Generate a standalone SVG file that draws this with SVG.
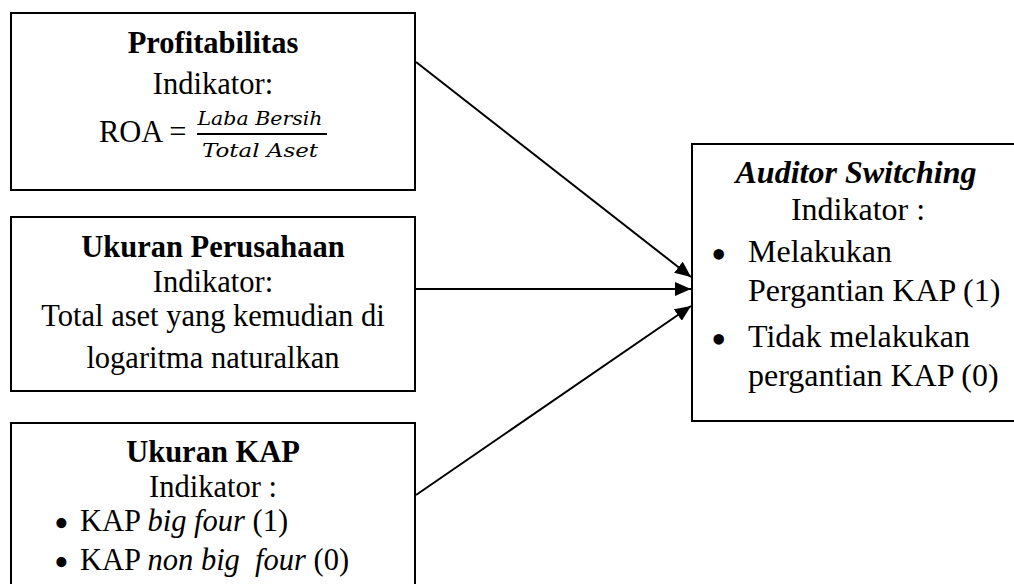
<svg xmlns="http://www.w3.org/2000/svg" width="1014" height="584" viewBox="0 0 1014 584">
<defs>
<marker id="ah" markerUnits="userSpaceOnUse" markerWidth="18" markerHeight="14" refX="16" refY="7" orient="auto">
<path d="M0,0 L16,7 L0,14 Z" fill="#000"/>
</marker>
<style>
.box{fill:#fff;stroke:#000;stroke-width:2}
.e{stroke:#000;stroke-width:2;fill:none}
</style>
</defs>
<rect width="1014" height="584" fill="#fff"/>
<g id="profitabilitas" font-size="30.5" fill="#000">
<rect class="box" x="11" y="13" width="404" height="177"/>
<text font-family="Liberation Serif" text-anchor="middle" font-weight="bold" x="213" y="53">Profitabilitas</text>
<text font-family="Liberation Serif" text-anchor="middle" x="213" y="94">Indikator:</text>
<text font-family="Liberation Serif" x="99" y="142">ROA =</text>
<text font-family="DejaVu Serif" font-size="19" font-style="italic" text-anchor="middle" x="260" y="125" textLength="125" lengthAdjust="spacingAndGlyphs">Laba Bersih</text>
<line x1="197" y1="134" x2="327" y2="134" stroke="#000" stroke-width="2"/>
<text font-family="DejaVu Serif" font-size="19" font-style="italic" text-anchor="middle" x="260" y="157" textLength="116" lengthAdjust="spacingAndGlyphs">Total Aset</text>
</g>
<g id="ukuran-perusahaan" font-size="30.5" fill="#000">
<rect class="box" x="11" y="217" width="404" height="174"/>
<text font-family="Liberation Serif" text-anchor="middle" font-weight="bold" x="213" y="257">Ukuran Perusahaan</text>
<text font-family="Liberation Serif" text-anchor="middle" x="213" y="292">Indikator:</text>
<text font-family="Liberation Serif" text-anchor="middle" x="213" y="326">Total aset yang kemudian di</text>
<text font-family="Liberation Serif" text-anchor="middle" x="213" y="368">logaritma naturalkan</text>
</g>
<g id="ukuran-kap" font-size="30.5" fill="#000">
<rect class="box" x="11" y="423" width="404" height="180"/>
<text font-family="Liberation Serif" text-anchor="middle" font-weight="bold" x="213" y="462">Ukuran KAP</text>
<text font-family="Liberation Serif" text-anchor="middle" x="213" y="497">Indikator :</text>
<text font-family="Liberation Serif" font-size="42" x="54" y="537">•</text>
<text font-family="Liberation Serif" x="80" y="531">KAP <tspan font-style="italic">big four</tspan> (1)</text>
<text font-family="Liberation Serif" font-size="42" x="54" y="576">•</text>
<text font-family="Liberation Serif" x="80" y="570">KAP <tspan font-style="italic">non big&#160; four</tspan> (0)</text>
</g>
<g id="auditor-switching" font-size="32" fill="#000">
<rect class="box" x="692" y="144" width="340" height="277"/>
<text font-family="Liberation Serif" text-anchor="middle" font-weight="bold" font-style="italic" x="856" y="183">Auditor Switching</text>
<text font-family="Liberation Serif" text-anchor="middle" x="858" y="220">Indikator :</text>
<text font-family="Liberation Serif" font-size="44" x="711" y="269">•</text>
<text font-family="Liberation Serif" x="748" y="262">Melakukan</text>
<text font-family="Liberation Serif" x="748" y="301">Pergantian KAP (1)</text>
<text font-family="Liberation Serif" font-size="44" x="711" y="354">•</text>
<text font-family="Liberation Serif" x="748" y="347">Tidak melakukan</text>
<text font-family="Liberation Serif" x="748" y="386">pergantian KAP (0)</text>
</g>
<g id="connectors">
<line class="e" x1="416" y1="62" x2="691" y2="277" marker-end="url(#ah)"/>
<line class="e" x1="416" y1="289" x2="691" y2="289" marker-end="url(#ah)"/>
<line class="e" x1="416" y1="495" x2="691" y2="306" marker-end="url(#ah)"/>
</g>
</svg>
